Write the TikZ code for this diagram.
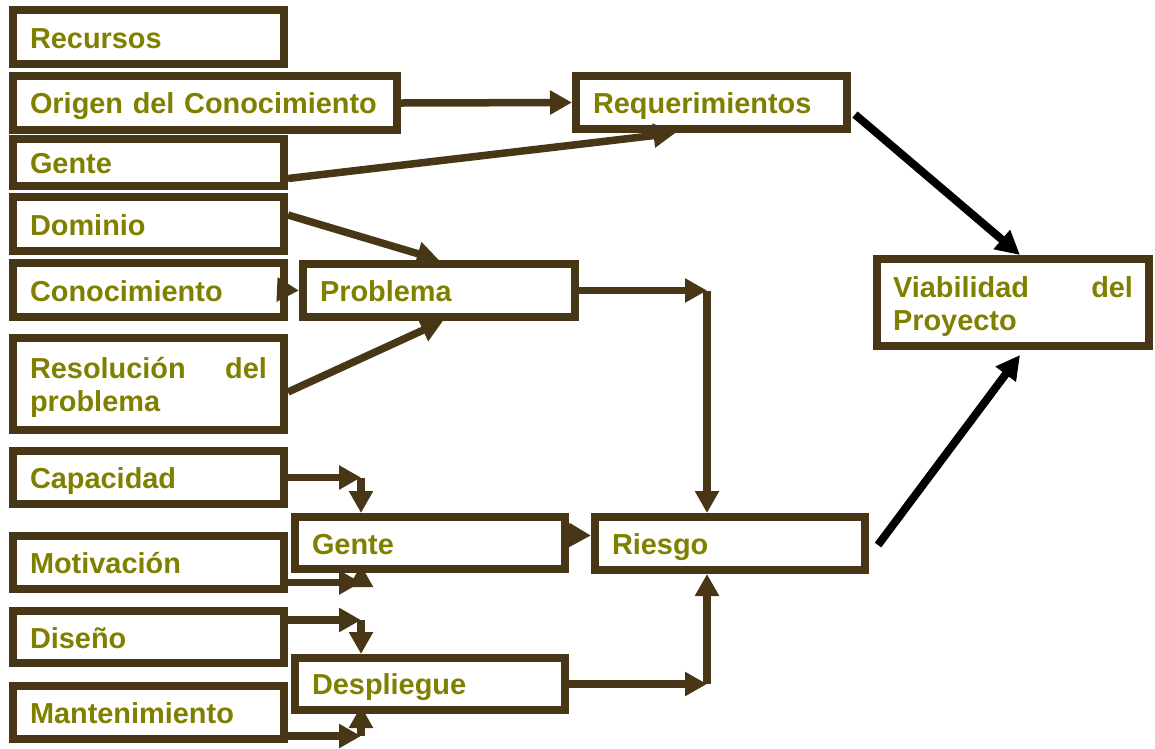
\documentclass[tikz,border=0pt]{standalone}
\usepackage{fontspec}
\setmainfont{Liberation Sans}
\usetikzlibrary{arrows.meta}
\definecolor{framebrown}{RGB}{72,55,23}
\definecolor{olivetext}{RGB}{128,128,0}

\begin{document}
\begin{tikzpicture}[x=1pt,y=-1pt,
  box/.style={draw=framebrown, line width=8pt, fill=white,
    inner xsep=17pt, inner ysep=0pt, align=left, text=olivetext,
    font=\bfseries\fontsize{28.9}{33}\selectfont,
    text width=237pt, minimum height=54pt,
    execute at begin node={\rule{0pt}{28pt}},
    execute at end node={\rule[-6pt]{0pt}{0pt}}},
  link/.style={draw=framebrown, line width=7.5pt, -{Triangle[length=22pt,width=23pt]}},
  strong/.style={draw=black, line width=8pt, -{Triangle[length=24pt,width=24pt]}}]

\useasboundingbox (0,0) rectangle (1155,748);

% left column of factors
\node[box] (recursos) at (148.5,37) {Recursos};
\node[box, text width=350pt] (origen) at (205,103) {Origen del Conocimiento};
\node[box, minimum height=47pt] (genteL) at (148.5,162.5) {Gente};
\node[box] (dominio) at (148.5,224) {Dominio};
\node[box] (conoc) at (148.5,290) {Conocimiento};
\node[box, minimum height=92pt] (resol) at (148.5,384) {Resolución \hfill del\\problema};
\node[box, minimum height=53pt] (capacidad) at (148.5,477.5) {Capacidad};
\node[box, minimum height=53pt] (motivacion) at (148.5,562.5) {Motivación};
\node[box, minimum height=52pt] (diseno) at (148.5,637) {Diseño};
\node[box, minimum height=53pt] (manten) at (148.5,712.5) {Mantenimiento};

% intermediate aspects
\node[box, text width=238pt, minimum height=53pt] (problema) at (439,290.5) {Problema};
\node[box, text width=236pt, minimum height=52pt] (gm) at (430,543) {Gente};
\node[box, text width=236pt, minimum height=52pt] (despliegue) at (430,684) {Despliegue};
\node[box, minimum height=53pt] (req) at (711.5,102.5) {Requerimientos};
\node[box, text width=236pt, minimum height=53pt] (riesgo) at (730,543.5) {Riesgo};
\node[box, text width=240pt, inner xsep=16pt, minimum height=87pt] (viab) at (1013,302.5) {Viabilidad \hfill del\\Proyecto};

% elbow points of the routed connectors
\coordinate (capc) at (361,477.5);
\coordinate (motc) at (361,582.5);
\coordinate (disc) at (361,620);
\coordinate (manc) at (361,736);
\coordinate (probc) at (707,290.5);
\coordinate (despc) at (707,684);

% into Requerimientos
\draw[link] (origen.east) -- (req.west);
\draw[link] ([yshift=-16pt]genteL.east) -- ([xshift=-36pt]req.south);

% into Problema
\draw[link] ([yshift=9pt]dominio.east) -- (problema.north);
\draw[link] (conoc.east) -- (problema.west);
\draw[link] ([yshift=-8pt]resol.east) -- ([xshift=4pt]problema.south);

% into Gente
\draw[link] (capacidad.east) -- (capc);
\draw[link] (capc) -- (capc |- gm.north);
\draw[link] ([yshift=-20pt]motivacion.east) -- (motc);
\draw[link] (motc) -- ([yshift=8pt]gm.south -| motc);

% into Despliegue
\draw[link] ([yshift=17pt]diseno.east) -- (disc);
\draw[link] (disc) -- (disc |- despliegue.north);
\draw[link] ([yshift=-23.5pt]manten.east) -- (manc);
\draw[link] (manc) -- ([yshift=8pt]despliegue.south -| manc);

% into Riesgo
\draw[link] (problema.east) -- (probc);
\draw[link] (probc) -- (probc |- riesgo.north);
\draw[link] ([yshift=8pt]gm.east) -- ([yshift=8pt]riesgo.west);
\draw[link] (despliegue.east) -- (despc);
\draw[link] (despc) -- (despc |- riesgo.south);

% into Viabilidad del Proyecto
\draw[strong] ([xshift=4pt,yshift=-12pt]req.east) -- ([xshift=7pt]viab.north);
\draw[strong] ([xshift=9pt,yshift=-1.5pt]riesgo.east) -- ([xshift=7pt,yshift=-5pt]viab.south);
\end{tikzpicture}
\end{document}
